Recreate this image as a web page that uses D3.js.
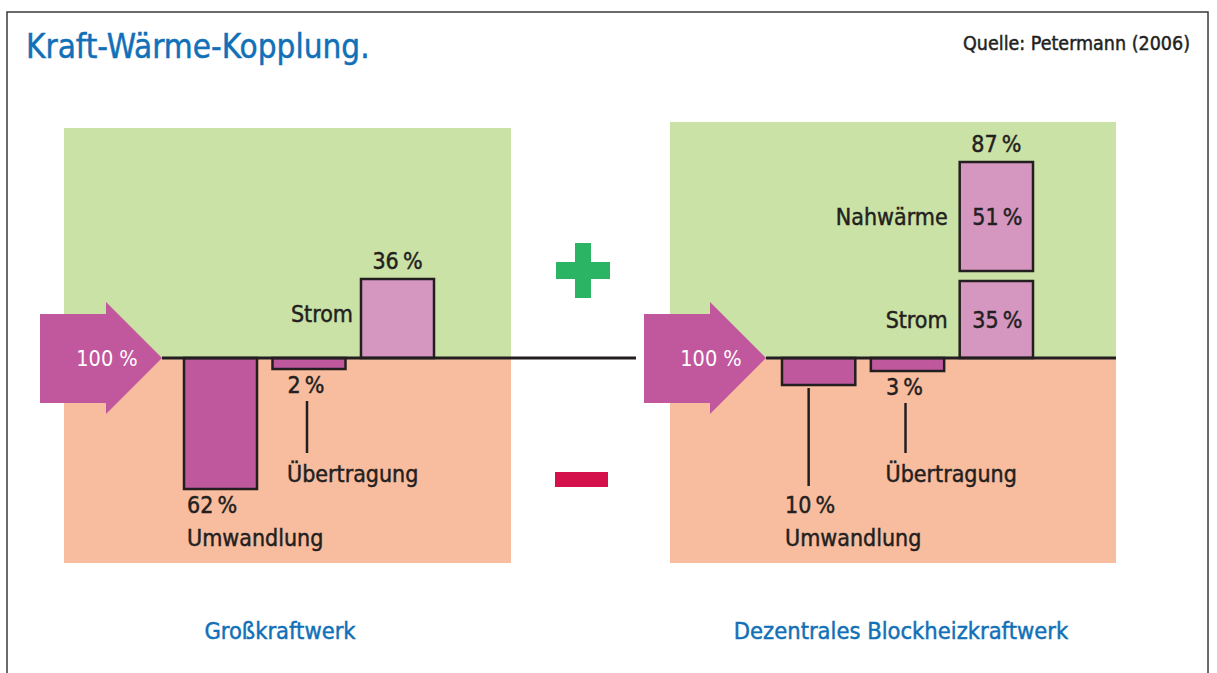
<!DOCTYPE html>
<html>
<head>
<meta charset="utf-8">
<script src="https://cdn.jsdelivr.net/npm/d3@7"></script>
<style>
  html, body { margin: 0; padding: 0; background: #fff; }
  svg { display: block; }
  .lbl { font-family: "DejaVu Sans Condensed", "Liberation Sans Narrow", "DejaVu Sans", sans-serif; fill: #231f20; }
  .bold { stroke-width: 0.45px; }
</style>
</head>
<body>
<div id="vis"></div>
<script>
// data
const panelNames = ["Großkraftwerk", "Dezentrales Blockheizkraftwerk"];
const inputValue = 100;
const grossCats = ["Umwandlung", "Übertragung", "Strom"];
const grossValues = [-62, -2, 36];
const bhkwCats = ["Umwandlung", "Übertragung", "Strom", "Nahwärme"];
const bhkwValues = [-10, -3, 35, 51];
const bhkwTotal = 87;

const width = 1217, height = 673;
const baseY = 358;

const C = {
  blue: "#1170b7",
  green: "#cbe2a6",
  orange: "#f8bc9e",
  arrow: "#c1579d",
  dark: "#c0589e",
  light: "#d597c0",
  ink: "#231f20",
  plus: "#2bb463",
  minus: "#d4114b"
};

const svg = d3.select("#vis").append("svg")
  .attr("width", width)
  .attr("height", height);

// frame
svg.append("rect")
  .attr("x", 7).attr("y", 12)
  .attr("width", 1201).attr("height", 680)
  .attr("fill", "none")
  .attr("stroke", "#3a3a3a")
  .attr("stroke-width", 1.5);

svg.append("text")
  .attr("class", "lbl bold")
  .attr("x", 26).attr("y", 58)
  .attr("font-size", 33)
  .style("fill", C.blue).style("stroke", C.blue)
  .text("Kraft-Wärme-Kopplung.");

svg.append("text")
  .attr("class", "lbl bold")
  .attr("x", 1190).attr("y", 50)
  .attr("text-anchor", "end")
  .attr("font-size", 19.5)
  .style("stroke", C.ink)
  .text("Quelle: Petermann (2006)");

// bar height scale (percent -> px)
const h = d3.scaleLinear().domain([0, 62]).range([7, 131]);
const pct = v => Math.abs(v) + "\u2009%";

const panels = [
  { name: panelNames[0], cats: grossCats, vals: grossValues, x0: 64, x1: 511, top: 128, tip: 162, bars: [184, 434], lineEnd: 636 },
  { name: panelNames[1], cats: bhkwCats, vals: bhkwValues, x0: 670, x1: 1116, top: 122, tip: 766, bars: [782, 1033], lineEnd: 1116 }
];

panels.forEach((p, pi) => {
  const g = svg.append("g");

  g.append("rect").attr("x", p.x0).attr("y", p.top)
    .attr("width", p.x1 - p.x0).attr("height", baseY - p.top)
    .attr("fill", C.green);
  g.append("rect").attr("x", p.x0).attr("y", baseY)
    .attr("width", p.x1 - p.x0).attr("height", 563 - baseY)
    .attr("fill", C.orange);

  // input arrow
  const ax = p.tip;
  const arrow = d3.path();
  arrow.moveTo(ax - 122, baseY - 44);
  arrow.lineTo(ax - 56, baseY - 44);
  arrow.lineTo(ax - 56, baseY - 56);
  arrow.lineTo(ax, baseY);
  arrow.lineTo(ax - 56, baseY + 56);
  arrow.lineTo(ax - 56, baseY + 45);
  arrow.lineTo(ax - 122, baseY + 45);
  arrow.closePath();
  g.append("path").attr("d", arrow.toString()).attr("fill", C.arrow);
  g.append("text").attr("class", "lbl")
    .attr("x", ax - 55).attr("y", baseY + 8)
    .attr("text-anchor", "middle")
    .attr("font-size", 21.5)
    .style("fill", "#fff")
    .text(inputValue + " %");

  // bars
  const x = d3.scaleBand().domain(p.cats.slice(0, 3)).range(p.bars).paddingInner(0.175).paddingOuter(0);
  const bw = x.bandwidth();

  const bars = p.cats.map((c, i) => {
    const v = p.vals[i];
    const bh = h(Math.abs(v));
    let y0;
    if (v < 0) y0 = baseY;
    else if (c === "Nahwärme") y0 = baseY - h(p.vals[p.cats.indexOf("Strom")]) - 10 - bh;
    else y0 = baseY - bh;
    return { c, v, x: x(c === "Nahwärme" ? "Strom" : c), y: y0, hgt: bh };
  });

  g.selectAll("rect.bar").data(bars).join("rect")
    .attr("class", "bar")
    .attr("x", d => d.x).attr("y", d => d.y)
    .attr("width", bw).attr("height", d => d.hgt)
    .attr("fill", d => d.v < 0 ? C.dark : C.light)
    .attr("stroke", C.ink).attr("stroke-width", 2.5);

  // baseline
  g.append("line").attr("x1", p.tip).attr("x2", p.lineEnd)
    .attr("y1", baseY).attr("y2", baseY)
    .attr("stroke", C.ink).attr("stroke-width", 3);

  const txt = (xx, yy, s, anchor) => g.append("text").attr("class", "lbl bold")
    .attr("x", xx).attr("y", yy).attr("font-size", 23)
    .style("stroke", C.ink)
    .attr("text-anchor", anchor || "start").text(s);
  const lead = (xx, ya, yb) => g.append("line").attr("x1", xx).attr("x2", xx)
    .attr("y1", ya).attr("y2", yb).attr("stroke", C.ink).attr("stroke-width", 2.5);

  bars.forEach(b => {
    const cx = b.x + bw / 2;
    if (b.c === "Umwandlung") {
      const bottom = b.y + b.hgt;
      if (bottom < 480) lead(cx - 10, bottom + 3, 486);
      txt(b.x + 3, 513, pct(b.v));
      txt(b.x + 3, 546, b.c);
    } else if (b.c === "Übertragung") {
      const bottom = b.y + b.hgt;
      txt(cx - 3, bottom + 24, pct(b.v), "middle");
      lead(cx - 2, bottom + 32, 453);
      txt(cx - 22, 482, b.c);
    } else {
      const my = b.y + b.hgt / 2;
      if (pi === 0) {
        txt(cx, b.y - 10, pct(b.v), "middle");
        txt(b.x - 8, my + 3, b.c, "end");
      } else {
        txt(cx + 1, my + 8, pct(b.v), "middle");
        txt(b.x - 12, my + 8, b.c, "end");
        if (b.c === "Nahwärme") txt(cx, b.y - 10, pct(bhkwTotal), "middle");
      }
    }
  });

  // panel name
  svg.append("text").attr("class", "lbl bold")
    .attr("x", pi === 0 ? 280 : 901).attr("y", 639)
    .attr("text-anchor", "middle")
    .attr("font-size", 23.5)
    .style("fill", C.blue).style("stroke", C.blue)
    .text(p.name);
});

// plus / minus signs
const sign = svg.append("g");
sign.append("rect").attr("x", 556).attr("y", 262).attr("width", 54).attr("height", 17).attr("fill", C.plus);
sign.append("rect").attr("x", 575).attr("y", 243).attr("width", 16).attr("height", 55).attr("fill", C.plus);
sign.append("rect").attr("x", 555).attr("y", 472).attr("width", 53).attr("height", 15).attr("fill", C.minus);
</script>
</body>
</html>
